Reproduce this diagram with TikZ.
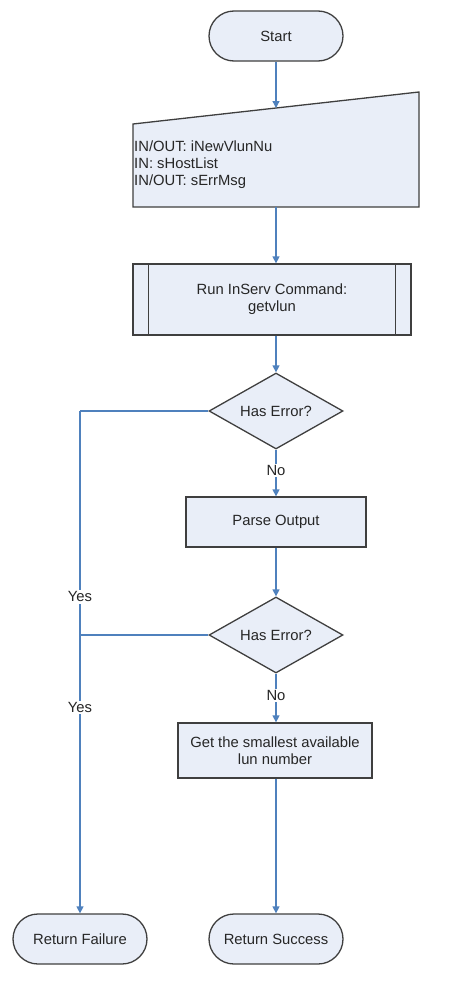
\documentclass[tikz,border=0pt]{standalone}
\usepackage{fontspec}
\setmainfont{Liberation Sans}
\usetikzlibrary{shapes.geometric,shapes.misc,arrows.meta}
\definecolor{boxfill}{HTML}{E9EEF8}
\definecolor{boxdraw}{HTML}{3F3F3F}
\definecolor{conn}{HTML}{4F81BD}
\tikzset{
  base/.style={draw=boxdraw,fill=boxfill,line width=1.3pt,font=\fontsize{14.8}{17}\selectfont,text=black!85,inner sep=0pt,align=center},
  term/.style={base,rounded rectangle,minimum width=134pt,minimum height=50pt},
  procbox/.style={base,rectangle},
  decision/.style={base,diamond,minimum width=134pt,minimum height=76pt},
  dtext/.style={font=\fontsize{14.8}{17}\selectfont,text=black!85,inner sep=0pt},
  conline/.style={draw=conn,line width=1.3pt},
  arr/.style={conline,-{Triangle[length=7pt,width=7pt]}},
  lbl/.style={fill=white,font=\fontsize{14.8}{17}\selectfont,text=black!85,inner sep=1.5pt}
}
\begin{document}
\begin{tikzpicture}[x=1pt,y=-1pt]
\useasboundingbox (0,0) rectangle (449,993);
% Start
\node[term] (start) at (276,36) {Start};
% IO parallelogram
\coordinate (ioTL) at (133,124);
\coordinate (ioTR) at (419,92);
\coordinate (ioBR) at (419,207);
\coordinate (ioBL) at (133,207);
\coordinate (iotop) at (276,108);
\coordinate (iobot) at (276,207);
\draw[draw=boxdraw,fill=boxfill,line width=1.3pt] (ioTL) -- (ioTR) -- (ioBR) -- (ioBL) -- cycle;
\node[anchor=north west,align=left,font=\fontsize{14.8}{16.8}\selectfont,text=black!85,inner sep=0pt] (iotext) at (134,141) {IN/OUT: iNewVlunNu\\IN: sHostList\\IN/OUT: sErrMsg};
% Run command (predefined process)
\node[procbox,minimum width=278pt,minimum height=71pt] (run) at (272,299.5) {Run InServ Command:\\getvlun};
\draw[draw=boxdraw,line width=1.3pt] ([xshift=16pt]run.north west) -- ([xshift=16pt]run.south west);
\draw[draw=boxdraw,line width=1.3pt] ([xshift=-16pt]run.north east) -- ([xshift=-16pt]run.south east);
% Decision 1
\node[decision] (d1) at (276,411) {};
\node[dtext] (d1t) at (d1.center) {Has Error?};
% Parse Output
\node[procbox,minimum width=180pt,minimum height=50pt] (parse) at (276,522) {Parse Output};
% Decision 2
\node[decision] (d2) at (276,635) {};
\node[dtext] (d2t) at (d2.center) {Has Error?};
% Get smallest
\node[procbox,minimum width=194pt,minimum height=55pt] (get) at (275,750.5) {Get the smallest available\\lun number};
% Terminals
\node[term] (fail) at (80,939) {Return Failure};
\node[term] (succ) at (276,939) {Return Success};
% junctions
\coordinate (j1) at (fail.north |- d1.west);
\coordinate (j2) at (fail.north |- d2.west);
% connectors
\draw[arr] (start.south) -- (iotop);
\draw[arr] (iobot) -- (iobot |- run.north);
\draw[arr] (run.south -| d1.north) -- (d1.north);
\draw[arr] (d1.south) -- node[lbl,pos=0.45] {No} (parse.north);
\draw[arr] (parse.south) -- (d2.north);
\draw[arr] (d2.south) -- node[lbl,pos=0.45] {No} (d2.south |- get.north);
\draw[arr] (d2.south |- get.south) -- (succ.north);
\draw[conline] (d1.west) -- (j1);
\draw[conline] (d2.west) -- (j2);
\draw[arr] (j1) -- node[lbl,pos=0.83] {Yes} (j2) -- node[lbl,pos=0.26] {Yes} (fail.north);
\end{tikzpicture}
\end{document}
